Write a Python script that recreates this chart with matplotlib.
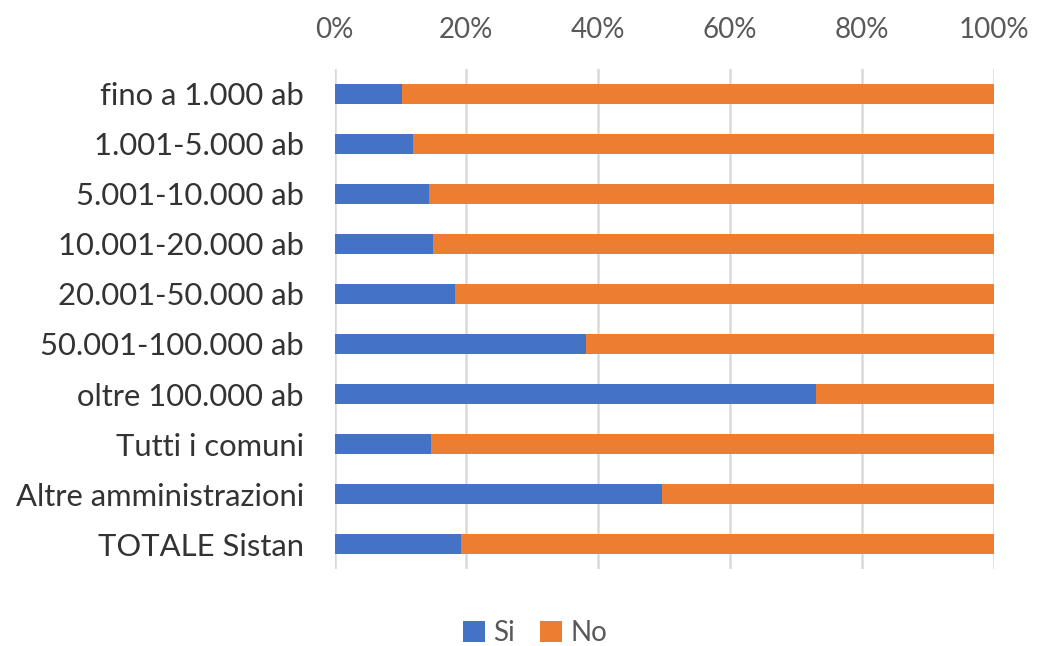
import matplotlib.pyplot as plt
import numpy as np

categories = ["fino a 1.000 ab", "1.001-5.000 ab", "5.001-10.000 ab", "10.001-20.000 ab",
              "20.001-50.000 ab", "50.001-100.000 ab", "oltre 100.000 ab", "Tutti i comuni",
              "Altre amministrazioni", "TOTALE Sistan"]
si = [10.3, 11.9, 14.4, 14.9, 18.3, 38.1, 73.0, 14.6, 49.6, 19.2]
no = [100 - v for v in si]
xticks = [0, 20, 40, 60, 80, 100]
xticklabels = ["0%", "20%", "40%", "60%", "80%", "100%"]

plt.rcParams['font.family'] = ['Lato', 'DejaVu Sans']

fig = plt.figure(figsize=(10.37, 6.46), dpi=100)
ax = fig.add_axes([334.5 / 1037, 1 - 569 / 646, (994 - 334.5) / 1037, 500 / 646])

y = np.arange(len(categories))
ax.barh(y, si, height=0.39, color="#4472C4", label="Si", zorder=3)
ax.barh(y, no, left=si, height=0.39, color="#ED7D31", label="No", zorder=3)

ax.set_ylim(len(categories) - 0.5, -0.5)
ax.set_xlim(0, 100)
ax.set_yticks(y)
ax.set_yticklabels(categories, fontsize=22.3, color="#333333")
ax.set_xticks(xticks)
ax.set_xticklabels(xticklabels, fontsize=20, color="#595959")
ax.xaxis.tick_top()
ax.tick_params(axis="both", length=0)
ax.tick_params(axis="x", pad=19)
ax.tick_params(axis="y", pad=22)
ax.grid(axis="x", color="#D9D9D9", linewidth=1.8, zorder=0)
for s in ax.spines.values():
    s.set_visible(False)

fig.legend(loc="center", bbox_to_anchor=(535 / 1037, 1 - 633 / 646), ncol=2, frameon=False,
           fontsize=20, handlelength=0.8, handleheight=0.8, handletextpad=0.3, columnspacing=0.9,
           labelcolor="#595959")

fig.savefig("out.png", dpi=100)
